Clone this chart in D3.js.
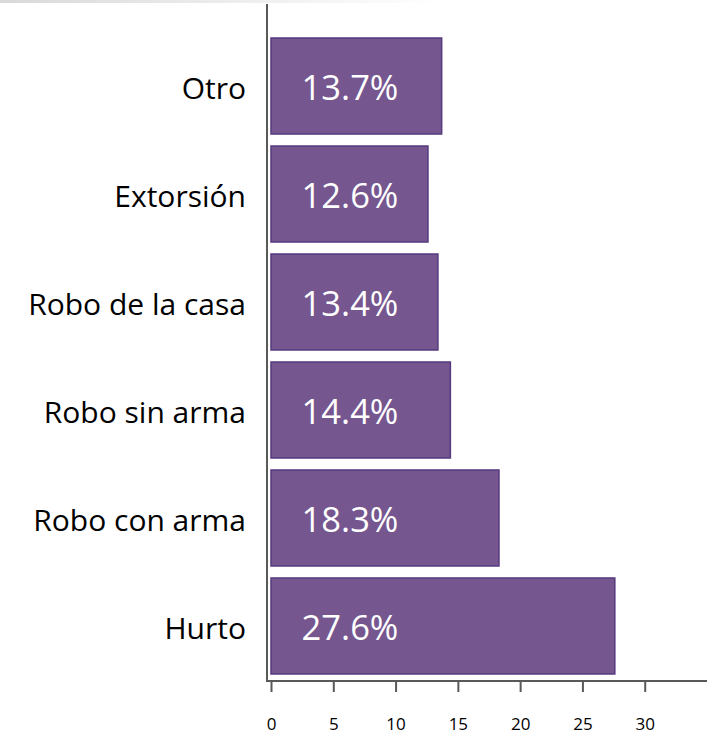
<!DOCTYPE html>
<meta charset="utf-8">
<head>
  <title>Delitos</title>
</head>

<style>
body {
  margin: 0;
  background: #fff;
  font-family: "Open Sans", "Noto Sans", sans-serif;
}

.axis-line {
  stroke: #595959;
  stroke-width: 2;
}

.bars rect {
  fill: #75568f;
  stroke: #56397f;
  stroke-width: 1.5;
}

.cat-label {
  font-size: 30px;
  fill: #000;
}

.val-label {
  font-size: 34.5px;
  fill: #fff;
}

.x-axis line {
  stroke: #595959;
  stroke-width: 2;
}

.x-axis text {
  font-family: "Open Sans", "Noto Sans", sans-serif;
  font-size: 17px !important;
  fill: #000;
}
</style>

<body>
  <svg width="707" height="738"></svg>

  <script src="https://cdn.jsdelivr.net/npm/d3@7"></script>

  <script>
var categories = ['Otro', 'Extorsión', 'Robo de la casa', 'Robo sin arma', 'Robo con arma', 'Hurto'];
var values = [13.7, 12.6, 13.4, 14.4, 18.3, 27.6];
var tickValues = [0, 5, 10, 15, 20, 25, 30];

var data = categories.map(function(c, i) {
  return {cat: c, val: values[i]};
});

var svg = d3.select('svg');

// faint grey strip along the top edge
var grad = svg.append('defs').append('linearGradient')
  .attr('id', 'topfade');
grad.append('stop').attr('offset', '0%').attr('stop-color', '#d9d9d9');
grad.append('stop').attr('offset', '100%').attr('stop-color', '#fff');
svg.append('rect')
  .attr('x', 0).attr('y', 0)
  .attr('width', 440).attr('height', 3)
  .attr('fill', 'url(#topfade)');

var x = d3.scaleLinear()
  .domain([0, 35])
  .range([271, 707]);

var y = d3.scaleBand()
  .domain(categories)
  .range([32, 680])
  .paddingInner(0.111)
  .paddingOuter(0.0556);

// bars
svg.append('g')
  .attr('class', 'bars')
  .selectAll('rect')
  .data(data)
  .enter()
  .append('rect')
  .attr('x', x(0))
  .attr('y', function(d) { return y(d.cat); })
  .attr('width', function(d) { return x(d.val) - x(0); })
  .attr('height', y.bandwidth());

// values inside bars
svg.append('g')
  .selectAll('text')
  .data(data)
  .enter()
  .append('text')
  .attr('class', 'val-label')
  .attr('x', x(0) + 79)
  .attr('y', function(d) { return y(d.cat) + y.bandwidth() / 2 + 14; })
  .attr('text-anchor', 'middle')
  .text(function(d) { return d.val.toFixed(1) + '%'; });

// category labels
svg.append('g')
  .selectAll('text')
  .data(data)
  .enter()
  .append('text')
  .attr('class', 'cat-label')
  .attr('x', 246)
  .attr('y', function(d) { return y(d.cat) + y.bandwidth() / 2 + 13; })
  .attr('text-anchor', 'end')
  .text(function(d) { return d.cat; });

// axis lines
svg.append('line')
  .attr('class', 'axis-line')
  .attr('x1', 267).attr('x2', 267)
  .attr('y1', 4).attr('y2', 682);

svg.append('line')
  .attr('class', 'axis-line')
  .attr('x1', 266).attr('x2', 707)
  .attr('y1', 681).attr('y2', 681);

// x axis ticks + labels
var xAxis = d3.axisBottom(x)
  .tickValues(tickValues)
  .tickSize(11)
  .tickPadding(26);

svg.append('g')
  .attr('class', 'x-axis')
  .attr('transform', 'translate(0,681)')
  .call(xAxis)
  .call(function(g) { g.select('.domain').remove(); });
  </script>
</body>
</html>
